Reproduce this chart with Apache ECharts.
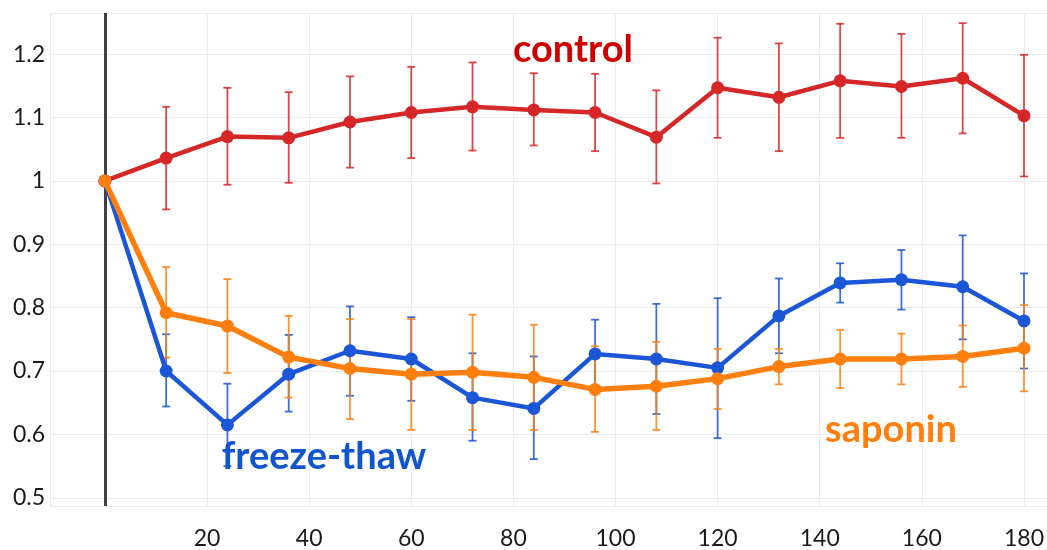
<!DOCTYPE html>
<html>
<head>
<meta charset="utf-8">
<script src="https://cdn.jsdelivr.net/npm/echarts@6/dist/echarts.min.js"></script>
<style>
html,body{margin:0;padding:0;background:#fff;}
#chart{width:1047px;height:550px;}
</style>
</head>
<body>
<div id="chart"></div>
<script>
const timePoints = [0, 12, 24, 36, 48, 60, 72, 84, 96, 108, 120, 132, 144, 156, 168, 180];

const controlMean = [1.0, 1.036, 1.070, 1.068, 1.093, 1.108, 1.117, 1.112, 1.108, 1.069, 1.147, 1.132, 1.158, 1.149, 1.162, 1.103];
const controlLow  = [null, 0.955, 0.994, 0.997, 1.021, 1.036, 1.048, 1.056, 1.047, 0.996, 1.068, 1.047, 1.068, 1.068, 1.075, 1.007];
const controlHigh = [null, 1.117, 1.147, 1.140, 1.165, 1.180, 1.187, 1.170, 1.169, 1.143, 1.226, 1.217, 1.248, 1.232, 1.249, 1.199];

const freezeMean = [1.0, 0.700, 0.615, 0.695, 0.732, 0.719, 0.658, 0.641, 0.727, 0.719, 0.705, 0.787, 0.839, 0.844, 0.833, 0.779];
const freezeLow  = [null, 0.644, 0.550, 0.636, 0.661, 0.653, 0.590, 0.561, 0.672, 0.632, 0.594, 0.728, 0.808, 0.797, 0.750, 0.704];
const freezeHigh = [null, 0.758, 0.680, 0.757, 0.802, 0.785, 0.728, 0.723, 0.781, 0.806, 0.815, 0.846, 0.870, 0.891, 0.914, 0.854];

const saponinMean = [1.0, 0.792, 0.771, 0.722, 0.704, 0.695, 0.698, 0.690, 0.671, 0.676, 0.688, 0.707, 0.719, 0.719, 0.723, 0.736];
const saponinLow  = [null, 0.721, 0.697, 0.658, 0.624, 0.607, 0.607, 0.607, 0.604, 0.607, 0.640, 0.679, 0.673, 0.679, 0.675, 0.668];
const saponinHigh = [null, 0.864, 0.845, 0.787, 0.782, 0.782, 0.789, 0.773, 0.739, 0.746, 0.735, 0.735, 0.765, 0.759, 0.772, 0.804];

const seriesNames = ['control', 'freeze-thaw', 'saponin'];

const COLORS = {control: '#d62728', freeze: '#1a56d6', saponin: '#ff7f0e'};

function pairs(xs, ys) { return xs.map((x, i) => [x, ys[i]]); }
function errData(xs, lo, hi) {
  const out = [];
  xs.forEach((x, i) => { if (lo[i] != null && hi[i] != null) out.push([x, lo[i], hi[i]]); });
  return out;
}
function errRender(color) {
  return function (params, api) {
    const x = api.value(0);
    const lo = api.coord([x, api.value(1)]);
    const hi = api.coord([x, api.value(2)]);
    const w = 4;
    const st = {stroke: color, lineWidth: 1.8, opacity: 0.85};
    return {
      type: 'group',
      children: [
        {type: 'line', shape: {x1: lo[0], y1: lo[1], x2: hi[0], y2: hi[1]}, style: st},
        {type: 'line', shape: {x1: lo[0] - w, y1: lo[1], x2: lo[0] + w, y2: lo[1]}, style: st},
        {type: 'line', shape: {x1: hi[0] - w, y1: hi[1], x2: hi[0] + w, y2: hi[1]}, style: st}
      ]
    };
  };
}

const chart = echarts.init(document.getElementById('chart'), null, {renderer: 'canvas'});
const labelFont = 'Lato, "Open Sans", sans-serif';

const lineSeries = (name, data, color, width, z) => ({
  name: name, type: 'line', data: data, z: z,
  symbol: 'circle', symbolSize: 13,
  lineStyle: {color: color, width: width},
  itemStyle: {color: color},
  emphasis: {disabled: true},
  animation: false
});
const errSeries = (data, color, z) => ({
  type: 'custom', data: data, z: z,
  renderItem: errRender(color),
  encode: {x: 0, y: [1, 2]},
  animation: false, silent: true
});

chart.setOption({
  backgroundColor: '#ffffff',
  animation: false,
  grid: {left: 50, right: 0, top: 13, bottom: 43, containLabel: false},
  xAxis: {
    type: 'value', min: -10.75, max: 184.5, splitNumber: 10, minInterval: 20, maxInterval: 20,
    axisLine: {show: false}, axisTick: {show: false},
    axisLabel: {
      showMinLabel: false, showMaxLabel: false, margin: 21,
      fontFamily: labelFont, fontSize: 23, color: '#1a1a1a',
      formatter: v => (v <= 0 ? '' : String(v))
    },
    splitLine: {show: true, lineStyle: {color: '#ececec', width: 1}}
  },
  yAxis: {
    type: 'value', min: 0.487, max: 1.265, minInterval: 0.1, maxInterval: 0.1,
    axisLine: {show: false}, axisTick: {show: false},
    axisLabel: {
      showMinLabel: false, showMaxLabel: false, margin: 5,
      fontFamily: labelFont, fontSize: 23, color: '#1a1a1a',
      formatter: v => String(Math.round(v * 10) / 10)
    },
    splitLine: {show: true, lineStyle: {color: '#ececec', width: 1}}
  },
  series: [
    errSeries(errData(timePoints, controlLow, controlHigh), COLORS.control, 3),
    errSeries(errData(timePoints, freezeLow, freezeHigh), COLORS.freeze, 3),
    errSeries(errData(timePoints, saponinLow, saponinHigh), COLORS.saponin, 3),
    Object.assign(lineSeries(seriesNames[0], pairs(timePoints, controlMean), COLORS.control, 4.5, 4), {
      markLine: {
        silent: true, symbol: 'none', label: {show: false},
        lineStyle: {color: '#404040', width: 3, type: 'solid'},
        data: [{xAxis: 0}], animation: false
      }
    }),
    lineSeries(seriesNames[1], pairs(timePoints, freezeMean), COLORS.freeze, 4.5, 5),
    lineSeries(seriesNames[2], pairs(timePoints, saponinMean), COLORS.saponin, 5.5, 6)
  ],
  graphic: [
    {type: 'text', z: 100, style: {text: seriesNames[0], x: 573, y: 50, textAlign: 'center', textVerticalAlign: 'middle',
      font: 'bold 38px Lato, sans-serif', fill: '#cc0000'}},
    {type: 'text', z: 100, style: {text: seriesNames[1], x: 324, y: 457, textAlign: 'center', textVerticalAlign: 'middle',
      font: 'bold 38px Lato, sans-serif', fill: '#1155cc'}},
    {type: 'text', z: 100, style: {text: seriesNames[2], x: 891, y: 430, textAlign: 'center', textVerticalAlign: 'middle',
      font: 'bold 38px Lato, sans-serif', fill: '#ff7f0e'}}
  ]
});
</script>
</body>
</html>
